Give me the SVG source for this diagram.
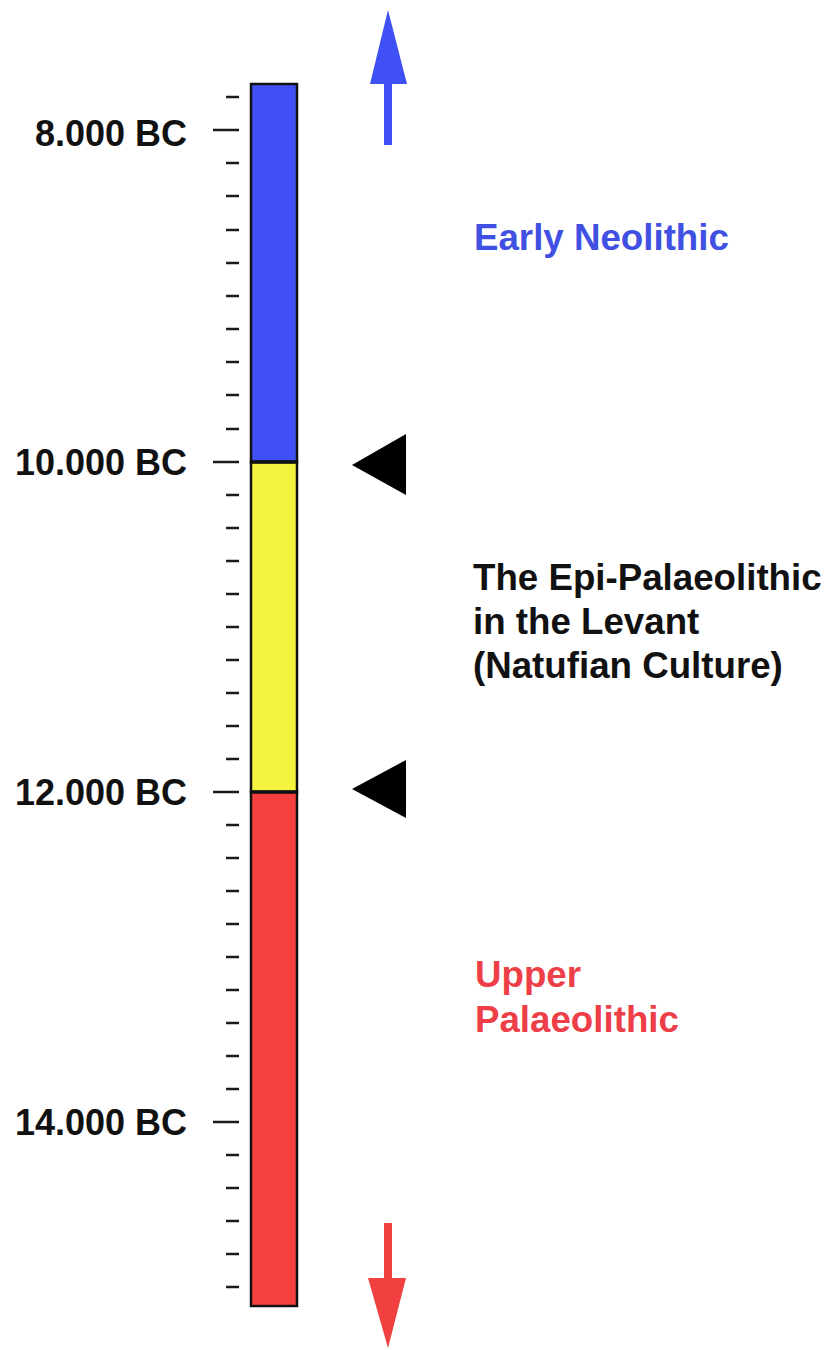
<svg xmlns="http://www.w3.org/2000/svg" width="832" height="1350" viewBox="0 0 832 1350">
<style>
.lbl{font-family:"Liberation Sans",Arial,sans-serif;font-weight:bold;font-size:36px;fill:#111}
.per{font-size:36.7px}
.yr{text-anchor:end}
.tk{stroke:#1a1a1a;stroke-width:2.5}
.seg{stroke:#111;stroke-width:2.5}
</style>
<rect width="832" height="1350" fill="#fff"/>
<g id="scale-ticks">
<path class="tk" d="M226 97H239M226 163H239M226 196H239M226 230H239M226 263H239M226 296H239M226 329H239M226 362H239M226 395H239M226 429H239M226 495H239M226 528H239M226 561H239M226 594H239M226 627H239M226 660H239M226 693H239M226 726H239M226 759H239M226 825H239M226 858H239M226 891H239M226 924H239M226 957H239M226 990H239M226 1023H239M226 1056H239M226 1089H239M226 1155H239M226 1188H239M226 1221H239M226 1254H239M226 1287H239"/>
<path class="tk" d="M213 130H239M213 462H239M213 792H239M213 1122H239"/>
</g>
<g id="year-labels">
<text class="lbl yr" x="187" y="146">8.000 BC</text>
<text class="lbl yr" x="187" y="475">10.000 BC</text>
<text class="lbl yr" x="187" y="805">12.000 BC</text>
<text class="lbl yr" x="187" y="1135">14.000 BC</text>
</g>
<g id="bar">
<rect id="early-neolithic-bar" class="seg" x="251" y="84" width="46" height="378" fill="#3f51f4"/>
<rect id="epi-palaeolithic-bar" class="seg" x="251" y="462" width="46" height="330" fill="#f4f43f"/>
<rect id="upper-palaeolithic-bar" class="seg" x="251" y="792" width="46" height="514" fill="#f64040"/>
<path stroke="#111" stroke-width="3.5" d="M251 462H297M251 792H297"/>
</g>
<g id="arrow-up">
<rect x="384" y="82" width="8" height="63" fill="#3f51f4"/>
<polygon points="388,10 370,84 407,84" fill="#3f51f4"/>
</g>
<g id="arrow-down">
<rect x="384" y="1223" width="8" height="57" fill="#f04040"/>
<polygon points="388,1348 368,1278 406,1278" fill="#f04040"/>
</g>
<g id="markers">
<polygon id="marker-10000" points="352,465 406,434 406,495" fill="#000"/>
<polygon id="marker-12000" points="352,789 406,760 406,818" fill="#000"/>
</g>
<g id="period-labels">
<text class="lbl per" x="474" y="250" style="fill:#3f50e2">Early Neolithic</text>
<text class="lbl per" x="473" y="590">The Epi-Palaeolithic</text>
<text class="lbl per" x="473" y="634">in the Levant</text>
<text class="lbl per" x="473" y="678">(Natufian Culture)</text>
<text class="lbl per" x="475" y="987" style="fill:#ee3f48">Upper</text>
<text class="lbl per" x="475" y="1032" style="fill:#ee3f48">Palaeolithic</text>
</g>
</svg>
